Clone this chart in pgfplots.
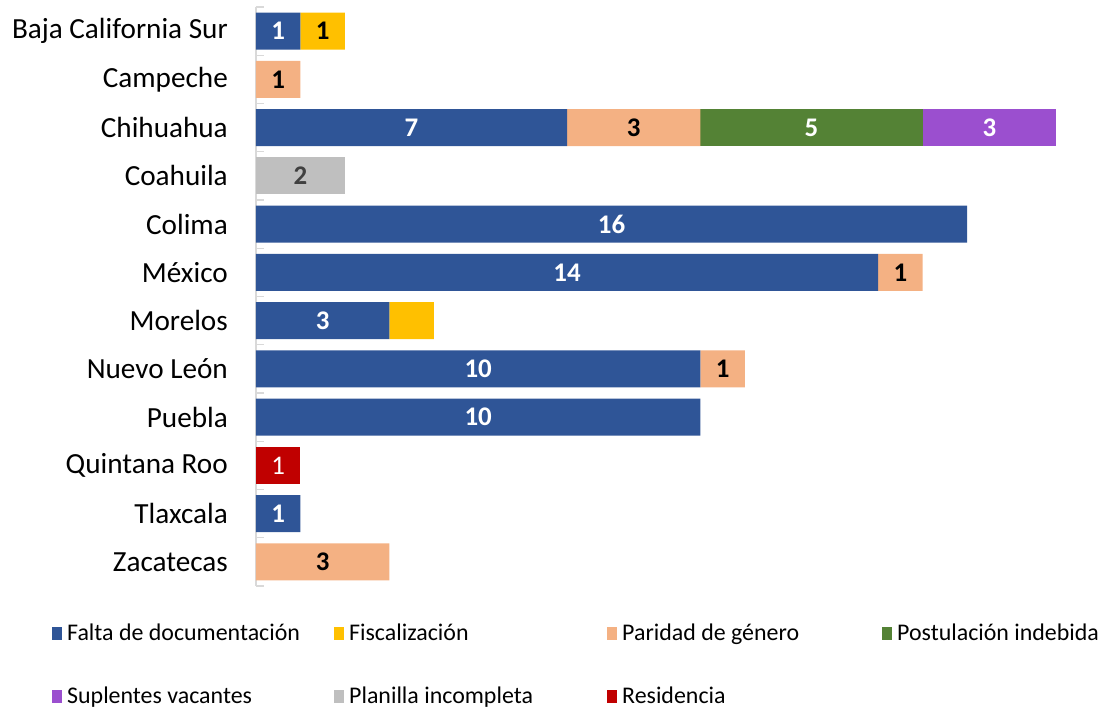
\documentclass[border=0pt]{standalone}
\usepackage{pgfplots}
\pgfplotsset{compat=1.18}
\usepackage{fontspec}
\setmainfont{Carlito}
\definecolor{cBlue}{HTML}{2F5597}
\definecolor{cYellow}{HTML}{FFC000}
\definecolor{cPeach}{HTML}{F4B183}
\definecolor{cGreen}{HTML}{548235}
\definecolor{cPurple}{HTML}{9B4FCF}
\definecolor{cGray}{HTML}{BFBFBF}
\definecolor{cRed}{HTML}{C00000}
\definecolor{cAxis}{HTML}{D9D9D9}
\definecolor{cDark}{HTML}{404040}
\begin{document}
\begin{tikzpicture}
\path[use as bounding box] (-256bp,-123bp) rectangle (846bp,586bp);
\begin{axis}[
  at={(0bp,0bp)}, anchor=south west,
  scale only axis, width=800bp, height=579bp,
  xbar stacked, bar width=37bp,
  xmin=0, xmax=18, ymin=-0.5, ymax=11.5, y dir=reverse,
  axis x line=none, axis y line*=left,
  ytick={0,...,11},
  yticklabels={Baja California Sur,Campeche,Chihuahua,Coahuila,Colima,México,Morelos,Nuevo León,Puebla,Quintana Roo,Tlaxcala,Zacatecas},
  minor ytick={-0.5,0.5,...,11.5},
  major tick length=0pt, minor tick length=8bp,
  y axis line style={draw=cAxis, line width=1.3bp},
  minor tick style={draw=cAxis, line width=1.3bp},
  yticklabel style={font=\fontsize{29.3}{33}\selectfont, inner sep=0pt, xshift=-28bp},
  clip=false,
  legend image code/.code={\fill[#1] (0bp,-6.5bp) rectangle (10bp,6.5bp);},
  legend columns=4,
  legend cell align=left,
  legend style={at={(-0.255,-0.0656)}, anchor=north west, draw=none, fill=none,
    inner sep=0pt, font=\fontsize{24}{28}\selectfont, row sep=45bp,
    nodes={inner sep=0pt},
    /tikz/every odd column/.append style={column sep=5bp}},
]
\addplot[fill=cBlue, draw=none] coordinates {(1,0) (0,1) (7,2) (0,3) (16,4) (14,5) (3,6) (10,7) (10,8) (0,9) (1,10) (0,11)};
\addlegendentry{\makebox[267bp][l]{Falta de documentación}}
\addplot[fill=cYellow, draw=none] coordinates {(1,0) (0,1) (0,2) (0,3) (0,4) (0,5) (1,6) (0,7) (0,8) (0,9) (0,10) (0,11)};
\addlegendentry{\makebox[258bp][l]{Fiscalización}}
\addplot[fill=cPeach, draw=none] coordinates {(0,0) (1,1) (3,2) (0,3) (0,4) (1,5) (0,6) (1,7) (0,8) (0,9) (0,10) (3,11)};
\addlegendentry{\makebox[260bp][l]{Paridad de género}}
\addplot[fill=cGreen, draw=none] coordinates {(0,0) (0,1) (5,2) (0,3) (0,4) (0,5) (0,6) (0,7) (0,8) (0,9) (0,10) (0,11)};
\addlegendentry{Postulación indebida}
\addplot[fill=cPurple, draw=none] coordinates {(0,0) (0,1) (3,2) (0,3) (0,4) (0,5) (0,6) (0,7) (0,8) (0,9) (0,10) (0,11)};
\addlegendentry{Suplentes vacantes}
\addplot[fill=cGray, draw=none] coordinates {(0,0) (0,1) (0,2) (2,3) (0,4) (0,5) (0,6) (0,7) (0,8) (0,9) (0,10) (0,11)};
\addlegendentry{Planilla incompleta}
\addplot[fill=cRed, draw=none] coordinates {(0,0) (0,1) (0,2) (0,3) (0,4) (0,5) (0,6) (0,7) (0,8) (1,9) (0,10) (0,11)};
\addlegendentry{Residencia}
\end{axis}
\begin{axis}[
  at={(0bp,0bp)}, anchor=south west,
  scale only axis, width=800bp, height=579bp,
  xmin=0, xmax=18, ymin=-0.5, ymax=11.5, y dir=reverse,
  hide axis, clip=false,
]
\addplot[draw=none, mark=none, nodes near coords, point meta=explicit symbolic,
  nodes near coords style={anchor=center, text=white, font=\bfseries\fontsize{27}{30}\selectfont}]
  table[meta=l] {
x y l
0.5 0 1
3.5 2 7
12.5 2 5
16.5 2 3
8 4 16
7 5 14
1.5 6 3
5 7 10
5 8 10
0.5 10 1
};
\addplot[draw=none, mark=none, nodes near coords, point meta=explicit symbolic,
  nodes near coords style={anchor=center, text=black, font=\bfseries\fontsize{27}{30}\selectfont}]
  table[meta=l] {
x y l
1.5 0 1
0.5 1 1
8.5 2 3
14.5 5 1
10.5 7 1
1.5 11 3
};
\addplot[draw=none, mark=none, nodes near coords, point meta=explicit symbolic,
  nodes near coords style={anchor=center, text=cDark, font=\bfseries\fontsize{27}{30}\selectfont}]
  table[meta=l] {
x y l
1 3 2
};
\addplot[draw=none, mark=none, nodes near coords, point meta=explicit symbolic,
  nodes near coords style={anchor=center, text=white, font=\fontsize{27}{30}\selectfont}]
  table[meta=l] {
x y l
0.5 9 1
};
\end{axis}
\end{tikzpicture}
\end{document}
